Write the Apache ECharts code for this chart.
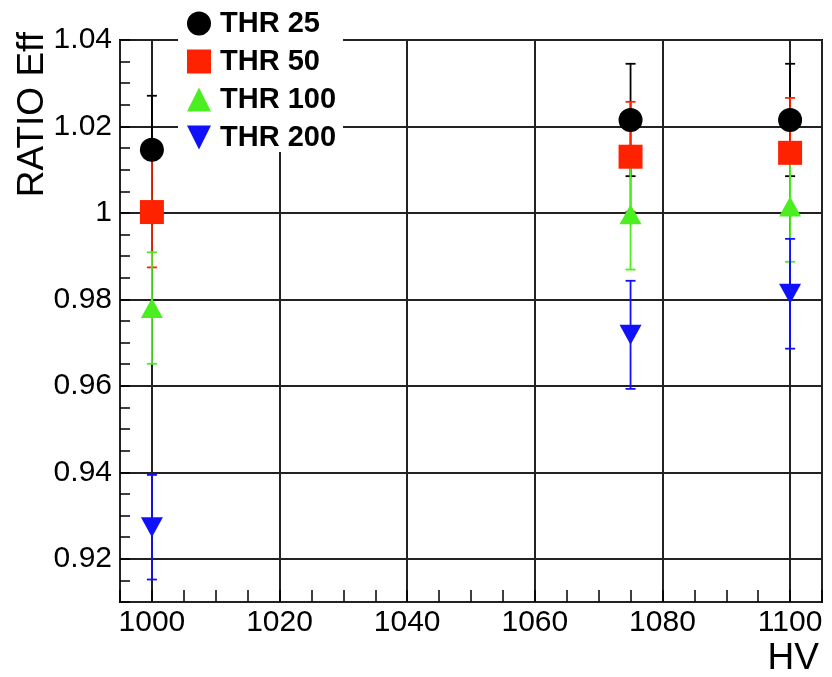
<!DOCTYPE html>
<html>
<head>
<meta charset="utf-8">
<script src="https://cdn.jsdelivr.net/npm/echarts@6/dist/echarts.min.js"></script>
<style>
  html, body { margin: 0; padding: 0; background: #fff; }
  #main { width: 832px; height: 677px; }
</style>
</head>
<body>
<div id="main"></div>
<script>
// HV points
const hv = [1000, 1075, 1100];

// ratio efficiency per threshold, with symmetric errors
const thr25 = [1.0146, 1.0215, 1.0215];
const err25 = [0.0125, 0.013, 0.013];
const thr50 = [1.0002, 1.013, 1.0139];
const err50 = [0.0128, 0.0127, 0.0127];
const thr100 = [0.978, 0.9997, 1.0015];
const err100 = [0.0129, 0.0128, 0.0128];
const thr200 = [0.9273, 0.9718, 0.9813];
const err200 = [0.0121, 0.0125, 0.0127];

const seriesNames = ['THR 25', 'THR 50', 'THR 100', 'THR 200'];
const colors = ['#000000', '#ff2200', '#4bef1f', '#1010ff'];

const font = '"Liberation Sans", Arial, Helvetica, sans-serif';
const downTri = 'path://M0,0L10,0L5,10Z';

function errSeries(vals, errs, color) {
  return {
    type: 'custom',
    xAxisIndex: 0,
    yAxisIndex: 0,
    silent: true,
    data: hv.map((x, i) => [x, vals[i], errs[i]]),
    renderItem: function (params, api) {
      const x = api.value(0), y = api.value(1), e = api.value(2);
      const top = api.coord([x, y + e]);
      const bot = api.coord([x, y - e]);
      const st = { stroke: color, lineWidth: 1.8 };
      const w = 5;
      return {
        type: 'group',
        children: [
          { type: 'line', shape: { x1: top[0], y1: top[1], x2: bot[0], y2: bot[1] }, style: st },
          { type: 'line', shape: { x1: top[0] - w, y1: top[1], x2: top[0] + w, y2: top[1] }, style: st },
          { type: 'line', shape: { x1: bot[0] - w, y1: bot[1], x2: bot[0] + w, y2: bot[1] }, style: st }
        ]
      };
    }
  };
}

function markSeries(name, vals, color, symbol, size) {
  return {
    name: name,
    type: 'scatter',
    xAxisIndex: 0,
    yAxisIndex: 0,
    symbol: symbol,
    symbolSize: size,
    itemStyle: { color: color, opacity: 1 },
    emphasis: { disabled: true },
    data: hv.map((x, i) => [x, vals[i]])
  };
}

const chart = echarts.init(document.getElementById('main'));

const gridLine = { show: true, lineStyle: { color: '#222', width: 2 } };

chart.setOption({
  backgroundColor: '#ffffff',
  animation: false,
  grid: {
    left: 120, right: 10, top: 40, bottom: 75,
    show: true, borderColor: '#000', borderWidth: 2, backgroundColor: 'transparent'
  },
  xAxis: [
    {
      type: 'value', min: 995, max: 1105, splitNumber: 5,
      minInterval: 20, maxInterval: 20,
      axisLine: { show: false },
      axisTick: { show: false },
      splitLine: gridLine,
      axisLabel: {
        color: '#000', fontSize: 30, fontFamily: font, margin: 6,
        showMinLabel: false, showMaxLabel: false,
        formatter: v => String(v)
      }
    },
    {
      type: 'value', min: 995, max: 1105, interval: 5, position: 'bottom',
      axisLine: { show: false },
      axisTick: { show: true, inside: true, length: 12, lineStyle: { color: '#000', width: 1.5 } },
      splitLine: { show: false },
      axisLabel: { show: false }
    }
  ],
  yAxis: [
    {
      type: 'value', min: 0.91, max: 1.04, splitNumber: 6,
      minInterval: 0.02, maxInterval: 0.02,
      axisLine: { show: false },
      axisTick: { show: false },
      splitLine: gridLine,
      axisLabel: {
        color: '#000', fontSize: 30, fontFamily: font, margin: 8,
        showMinLabel: false
      }
    },
    {
      type: 'value', min: 0.91, max: 1.04, interval: 0.005, position: 'left',
      axisLine: { show: false },
      axisTick: { show: true, inside: true, length: 10, lineStyle: { color: '#000', width: 1.5 } },
      splitLine: { show: false },
      axisLabel: { show: false }
    }
  ],
  legend: {
    orient: 'vertical',
    left: 178, top: 0,
    padding: [9, 7, 0, 9],
    itemWidth: 24, itemHeight: 24, itemGap: 9,
    backgroundColor: '#ffffff',
    selectedMode: false,
    textStyle: { color: '#000', fontSize: 29, fontWeight: 'bold', fontFamily: font, padding: [0, 0, 0, 4] },
    data: [
      { name: 'THR 25', icon: 'circle' },
      { name: 'THR 50', icon: 'rect' },
      { name: 'THR 100', icon: 'triangle' },
      { name: 'THR 200', icon: downTri }
    ]
  },
  graphic: [
    {
      type: 'text', x: 33, y: 32, rotation: Math.PI / 2,
      style: { text: 'RATIO Eff', font: '37px ' + font, fill: '#000', textAlign: 'right', textVerticalAlign: 'middle' }
    },
    {
      type: 'text', x: 819, y: 659,
      style: { text: 'HV', font: '37px ' + font, fill: '#000', textAlign: 'right', textVerticalAlign: 'middle' }
    }
  ],
  series: [
    errSeries(thr25, err25, colors[0]),
    markSeries(seriesNames[0], thr25, colors[0], 'circle', 24),
    errSeries(thr50, err50, colors[1]),
    markSeries(seriesNames[1], thr50, colors[1], 'rect', 24),
    errSeries(thr100, err100, colors[2]),
    markSeries(seriesNames[2], thr100, colors[2], 'triangle', [22, 20]),
    errSeries(thr200, err200, colors[3]),
    markSeries(seriesNames[3], thr200, colors[3], downTri, [22, 20])
  ]
});
</script>
</body>
</html>
